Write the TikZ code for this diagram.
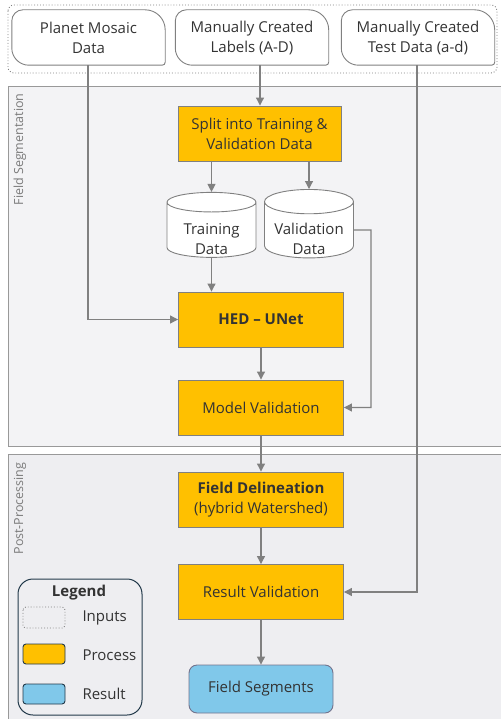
\documentclass[tikz,border=0pt]{standalone}
\usepackage{fontspec}
\setmainfont{Open Sans}
\usetikzlibrary{shapes.geometric,arrows.meta}

\definecolor{procfill}{HTML}{FFC000}
\definecolor{resfill}{HTML}{80C8EA}
\definecolor{panelfill}{HTML}{F3F3F5}
\definecolor{panelfilltwo}{HTML}{EEEEF1}
\definecolor{linegray}{HTML}{808080}
\definecolor{txtgray}{HTML}{333333}
\definecolor{legline}{HTML}{22394A}

% input box outline: corners of different roundness
\newcommand\inshape[1]{%
  \draw[inline] ([xshift=11pt]#1.north west) -- ([xshift=-20pt]#1.north east)
    .. controls ([xshift=-9pt]#1.north east) and ([yshift=-9pt]#1.north east) .. ([yshift=-20pt]#1.north east)
    -- ([yshift=3pt]#1.south east)
    .. controls ([yshift=1.3pt]#1.south east) and ([xshift=-1.3pt]#1.south east) .. ([xshift=-3pt]#1.south east)
    -- ([xshift=17pt]#1.south west)
    .. controls ([xshift=7.7pt]#1.south west) and ([yshift=7.7pt]#1.south west) .. ([yshift=17pt]#1.south west)
    -- ([yshift=-11pt]#1.north west)
    .. controls ([yshift=-5pt]#1.north west) and ([xshift=5pt]#1.north west) .. ([xshift=11pt]#1.north west)
    -- cycle;}

\begin{document}
\begin{tikzpicture}[x=1pt,y=-1pt,
    every node/.style={font=\fontsize{15}{20}\selectfont,text=txtgray,align=center},
    inline/.style={draw=linegray,line width=0.9pt},
    inbox/.style={minimum width=153pt,minimum height=55pt,inner sep=0pt},
    proc/.style={draw=linegray,line width=0.9pt,fill=procfill,minimum width=165pt,minimum height=55pt,inner sep=0pt},
    store/.style={cylinder,shape border rotate=90,aspect=0.35,draw=linegray,line width=0.9pt,fill=white,
      minimum width=89pt,minimum height=65pt,inner sep=0pt},
    flow/.style={draw=linegray,line width=1.1pt,-{Triangle[length=8pt,width=8pt]}},
    panel/.style={draw=linegray!80,line width=0.9pt},
    sidelabel/.style={rotate=90,anchor=east,text=linegray!95!black,font=\fontsize{12.5}{14}\selectfont},
    swatch/.style={draw=legline,line width=0.9pt,rounded corners=3pt}]
  \useasboundingbox (0,0) rectangle (500,719);

  % panels
  \fill[panelfill] (8,86) rectangle (508,446);
  \draw[panel] (508,86) -- (8,86) -- (8,446) -- (508,446);
  \fill[panelfilltwo] (8,454) rectangle (508,725);
  \draw[panel] (508,454) -- (8,454) -- (8,725);
  \node[sidelabel] (lseg) at (20,90) {Field Segmentation};
  \node[sidelabel] (lpost) at (20,459) {Post-Processing};

  % inputs
  \draw[linegray,line width=0.9pt,dotted,rounded corners=6pt] (8,5) rectangle (497,73);
  \node[inbox] (mosaic) at (88.5,37.5) {Planet Mosaic\\Data};
  \node[inbox] (labels) at (252,37.5) {Manually Created\\Labels (A-D)};
  \node[inbox] (testdata) at (418,37.5) {Manually Created\\Test Data (a-d)};
  \inshape{mosaic}
  \inshape{labels}
  \inshape{testdata}

  % field segmentation
  \node[proc,minimum width=163pt] (split) at (259.5,133.5) {Split into Training \&\\Validation Data};
  \node[store] (train) at (211.5,230) {\phantom{Training}\\\phantom{Data}};
  \node[store] (valid) at (309,230) {\phantom{Validation}\\\phantom{Data}};
  \node (traintxt) at (211.5,239) {Training\\Data};
  \node (validtxt) at (309,239) {Validation\\Data};
  \node[proc] (hed) at (261,319.5) {\textbf{HED -- UNet}};
  \node[proc] (modelval) at (261,407.5) {Model Validation};

  % post-processing
  \node[proc] (delin) at (261,499.5) {\textbf{Field Delineation}\\(hybrid Watershed)};
  \node[proc] (resval) at (261,592) {Result Validation};
  \node[draw=linegray!90!blue,line width=0.9pt,fill=resfill,rounded corners=8pt,
    minimum width=144pt,minimum height=48pt] (segments) at (261,689) {Field Segments};

  % connectors
  \draw[flow] (mosaic.south -| 88,0) |- (hed.west);
  \draw[flow] (labels.south -| 260,0) -- (split.north -| 260,0);
  \draw[flow] (testdata.south -| 417,0) |- (resval.east);
  \draw[flow] (split.south -| train.north) -- (train.north);
  \draw[flow] (split.south -| valid.north) -- (valid.north);
  \draw[flow] (train.south) -- (hed.north -| train.south);
  \draw[flow] (valid.east) -- (371,230) |- (modelval.east);
  \draw[flow] (hed) -- (modelval);
  \draw[flow] (modelval) -- (delin);
  \draw[flow] (delin) -- (resval);
  \draw[flow] (resval) -- (segments);

  % legend
  \draw[legline,line width=1pt,rounded corners=15pt,fill=panelfilltwo] (18,579) rectangle (142,715);
  \node (legtitle) at (79,593) {\textbf{Legend}};
  \draw[swatch,dotted,draw=linegray] (23,607) rectangle (65,628);
  \draw[swatch,fill=procfill] (23,644) rectangle (65,664);
  \draw[swatch,fill=resfill] (23,684) rectangle (65,704);
  \node[anchor=west] (leginput) at (79,618) {Inputs};
  \node[anchor=west] (legproc) at (79,655) {Process};
  \node[anchor=west] (legres) at (79,694) {Result};
\end{tikzpicture}
\end{document}
